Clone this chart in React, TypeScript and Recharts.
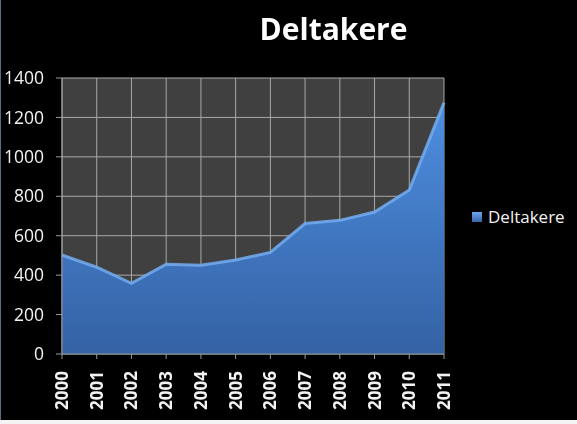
import { Area, AreaChart, CartesianGrid, XAxis, YAxis } from "recharts";

const years = ["2000", "2001", "2002", "2003", "2004", "2005", "2006", "2007", "2008", "2009", "2010", "2011"];
const deltakere = [502, 440, 358, 455, 450, 477, 515, 662, 678, 720, 832, 1275];
const yTicks = [0, 200, 400, 600, 800, 1000, 1200, 1400];

const data = years.map((year, i) => ({ year, Deltakere: deltakere[i] }));

const FONT = "'Open Sans', 'DejaVu Sans', sans-serif";

function YearTick({ x, y, payload }: any) {
  return (
    <text
      x={x}
      y={y}
      transform={`rotate(-90, ${x}, ${y})`}
      dx={-10}
      dy={6}
      textAnchor="end"
      fill="#f2f2f2"
      fontFamily={FONT}
      fontWeight={700}
      fontSize={17}
    >
      {payload.value}
    </text>
  );
}

export default function App() {
  return (
    <div style={{ position: "fixed", left: 0, top: 0, width: 577, height: 424, background: "#f4f4f4" }}>
      <div
        style={{
          position: "absolute",
          left: 0,
          top: 0,
          width: 576,
          height: 420,
          background: "#000",
          borderLeft: "1px solid #5a6c88",
        }}
      />
      <div
        style={{
          position: "absolute",
          left: 0,
          top: 11,
          width: 667,
          textAlign: "center",
          fontFamily: FONT,
          fontWeight: 700,
          fontSize: 30,
          lineHeight: "36px",
          color: "#fff",
        }}
      >
        Deltakere
      </div>
      <div
        style={{
          position: "absolute",
          left: 472,
          top: 205,
          display: "flex",
          alignItems: "center",
          fontFamily: FONT,
          fontSize: 17,
          color: "#f2f2f2",
        }}
      >
        <span
          style={{
            display: "inline-block",
            width: 10,
            height: 10,
            marginRight: 6,
            background: "linear-gradient(#6ea6ee, #3565a8)",
          }}
        />
        Deltakere
      </div>
      <div style={{ position: "absolute", left: 0, top: 0 }}>
        <AreaChart width={577} height={424} data={data} margin={{ top: 78, right: 133, bottom: 0, left: 0 }}>
          <defs>
            <linearGradient id="areaFill" x1="0" y1="0" x2="0" y2="1">
              <stop offset="0%" stopColor="#4e8ee0" />
              <stop offset="100%" stopColor="#3462a4" />
            </linearGradient>
          </defs>
          <CartesianGrid stroke="#a8a8a8" strokeWidth={1} fill="#404040" />
          <XAxis
            dataKey="year"
            interval={0}
            height={70}
            tick={<YearTick />}
            tickSize={5}
            stroke="#9a9a9a"
            tickLine={{ stroke: "#9a9a9a" }}
          />
          <YAxis
            width={62}
            domain={[0, 1400]}
            ticks={yTicks}
            interval={0}
            tickSize={6}
            tickMargin={12}
            stroke="#9a9a9a"
            tick={{ fill: "#f2f2f2", fontSize: 17.5, fontFamily: FONT }}
          />
          <Area
            type="linear"
            dataKey="Deltakere"
            stroke="#74adf2"
            strokeWidth={3}
            strokeOpacity={0.85}
            fill="url(#areaFill)"
            fillOpacity={1}
            isAnimationActive={false}
          />
        </AreaChart>
      </div>
    </div>
  );
}
